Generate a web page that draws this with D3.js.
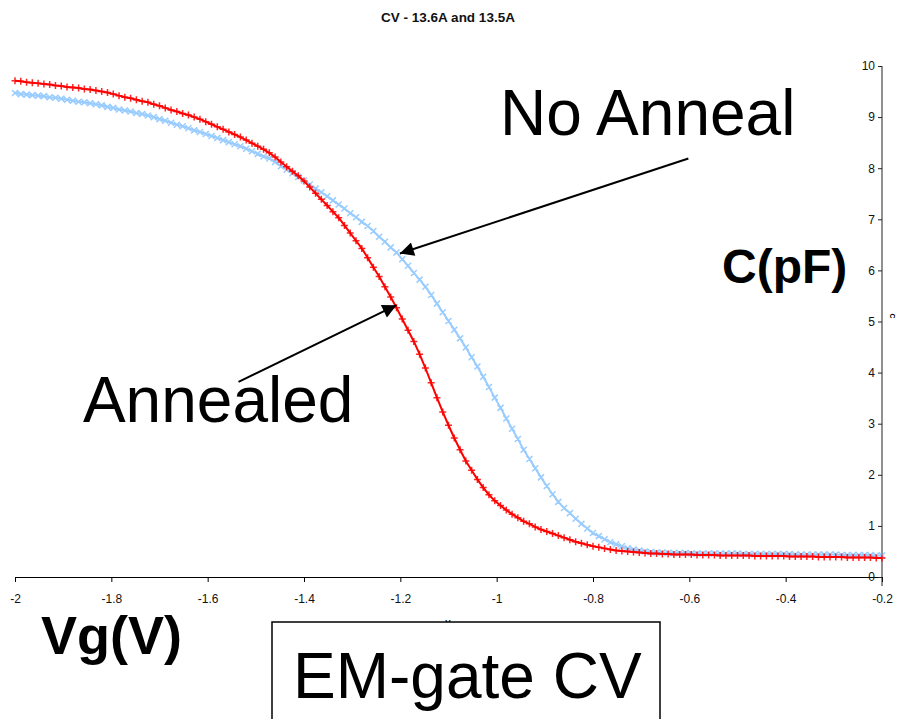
<!DOCTYPE html>
<html>
<head>
<meta charset="utf-8">
<script src="https://cdn.jsdelivr.net/npm/d3@7"></script>
<style>
  body { margin: 0; background: #fff; }
  text { font-family: "Liberation Sans", Arial, sans-serif; }
</style>
</head>
<body>
<div id="chart"></div>
<script>
// gate voltage sweep: -2 V to -0.2 V
const vStart = -2;
const vStep = 0.012;

// C(pF), annealed sample (red +)
const capAnnealed = [
  9.71, 9.70, 9.68, 9.67, 9.66, 9.65, 9.64, 9.62, 9.61, 9.59,
  9.58, 9.57, 9.55, 9.54, 9.52, 9.50, 9.48, 9.45, 9.42, 9.39,
  9.37, 9.34, 9.31, 9.29, 9.25, 9.22, 9.18, 9.14, 9.11, 9.07,
  9.04, 9.00, 8.96, 8.91, 8.86, 8.81, 8.76, 8.71, 8.66, 8.61,
  8.55, 8.49, 8.43, 8.37, 8.30, 8.22, 8.12, 8.03, 7.94, 7.85,
  7.75, 7.63, 7.51, 7.39, 7.27, 7.15, 7.03, 6.88, 6.73, 6.58,
  6.43, 6.25, 6.06, 5.88, 5.68, 5.48, 5.27, 5.05, 4.83, 4.61,
  4.36, 4.09, 3.80, 3.51, 3.23, 2.97, 2.72, 2.49, 2.27, 2.09,
  1.91, 1.75, 1.61, 1.49, 1.40, 1.31, 1.23, 1.16, 1.09, 1.04,
  0.98, 0.93, 0.89, 0.85, 0.81, 0.77, 0.73, 0.69, 0.66, 0.63,
  0.60, 0.58, 0.56, 0.54, 0.52, 0.51, 0.50, 0.49, 0.48, 0.47,
  0.46, 0.46, 0.45, 0.45, 0.44, 0.44, 0.44, 0.44, 0.43, 0.43,
  0.43, 0.43, 0.42, 0.42, 0.42, 0.42, 0.42, 0.42, 0.41, 0.41,
  0.41, 0.41, 0.41, 0.41, 0.40, 0.40, 0.40, 0.40, 0.40, 0.39,
  0.39, 0.39, 0.39, 0.39, 0.38, 0.38, 0.38, 0.38, 0.38, 0.37, 0.37
];

// C(pF), no anneal (light blue x)
const capNoAnneal = [
  9.47, 9.45, 9.44, 9.43, 9.42, 9.41, 9.39, 9.38, 9.36, 9.34,
  9.32, 9.30, 9.29, 9.27, 9.25, 9.23, 9.20, 9.18, 9.15, 9.13,
  9.11, 9.08, 9.06, 9.03, 9.00, 8.96, 8.93, 8.89, 8.85, 8.82,
  8.78, 8.74, 8.71, 8.67, 8.63, 8.59, 8.55, 8.51, 8.47, 8.43,
  8.38, 8.33, 8.28, 8.23, 8.19, 8.12, 8.04, 7.97, 7.90, 7.83,
  7.76, 7.68, 7.60, 7.53, 7.45, 7.37, 7.29, 7.21, 7.12, 7.04,
  6.95, 6.87, 6.77, 6.66, 6.56, 6.45, 6.35, 6.22, 6.09, 5.95,
  5.82, 5.68, 5.52, 5.35, 5.18, 5.01, 4.84, 4.67, 4.49, 4.30,
  4.12, 3.92, 3.72, 3.51, 3.31, 3.10, 2.90, 2.70, 2.49, 2.31,
  2.13, 1.95, 1.78, 1.62, 1.47, 1.35, 1.25, 1.14, 1.04, 0.95,
  0.86, 0.80, 0.74, 0.68, 0.64, 0.60, 0.56, 0.54, 0.52, 0.50,
  0.49, 0.48, 0.48, 0.47, 0.47, 0.47, 0.47, 0.46, 0.46, 0.46,
  0.46, 0.46, 0.46, 0.46, 0.46, 0.46, 0.45, 0.45, 0.45, 0.45,
  0.45, 0.45, 0.45, 0.45, 0.45, 0.44, 0.44, 0.44, 0.44, 0.44,
  0.44, 0.44, 0.44, 0.43, 0.43, 0.43, 0.43, 0.43, 0.43, 0.42, 0.42
];

const xTicks = [-2, -1.8, -1.6, -1.4, -1.2, -1, -0.8, -0.6, -0.4, -0.2];
const yTicks = [0, 1, 2, 3, 4, 5, 6, 7, 8, 9, 10];

// annotations (data units)
const labelText = ['No Anneal', 'Annealed'];
const labelAt = [[-0.993, 8.65], [-1.859, 3.03]];
const arrowFrom = [[-0.602, 8.19], [-1.536, 3.82]];
const arrowTo = [[-1.201, 6.33], [-1.208, 5.32]];

const width = 897, height = 719;

const svg = d3.select('#chart').append('svg')
  .attr('width', width)
  .attr('height', height);

const x = d3.scaleLinear().domain([-2, -0.2]).range([15, 882]);
const y = d3.scaleLinear().domain([0, 10]).range([577, 66]);

// title
svg.append('text')
  .attr('x', 448).attr('y', 22)
  .attr('text-anchor', 'middle')
  .attr('font-size', 13.5)
  .attr('font-weight', 'bold')
  .attr('fill', '#111')
  .text('CV - 13.6A and 13.5A');

// x axis
const xAxis = svg.append('g')
  .attr('transform', `translate(0,${y(0)})`)
  .call(d3.axisBottom(x).tickValues(xTicks).tickSize(5).tickSizeOuter(0)
    .tickPadding(12).tickFormat(d => String(+d.toFixed(1))));
xAxis.select('.domain').attr('stroke', '#000');
xAxis.selectAll('.tick line').attr('stroke', '#000');
xAxis.selectAll('text').attr('font-size', 12).attr('fill', '#111')
  .style('font-family', '"Liberation Sans", Arial, sans-serif');

// y axis on the right, labels inside
const yAxis = svg.append('g')
  .attr('transform', `translate(${x(-0.2)},0)`)
  .call(d3.axisLeft(y).tickValues(yTicks).tickSize(4).tickSizeOuter(0).tickPadding(3));
yAxis.select('.domain').attr('stroke', '#222').attr('d', `M0,${y(10)}V${y(0) + 9}`);
yAxis.selectAll('.tick line').attr('stroke', '#222');
yAxis.selectAll('text').attr('font-size', 12).attr('fill', '#111')
  .style('font-family', '"Liberation Sans", Arial, sans-serif');

// series
const toPoints = caps => caps.map((c, i) => ({ v: vStart + i * vStep, c: c }));
const annealed = toPoints(capAnnealed);
const noAnneal = toPoints(capNoAnneal);

const line = d3.line().x(d => x(d.v)).y(d => y(d.c));

function plusPath(pts, r) {
  return pts.map(d => {
    const px = x(d.v), py = y(d.c);
    return `M${px - r},${py}H${px + r}M${px},${py - r}V${py + r}`;
  }).join('');
}
function crossPath(pts, r) {
  return pts.map(d => {
    const px = x(d.v), py = y(d.c);
    return `M${px - r},${py - r}L${px + r},${py + r}M${px - r},${py + r}L${px + r},${py - r}`;
  }).join('');
}

// no anneal first, red drawn over it
svg.append('path')
  .datum(noAnneal)
  .attr('fill', 'none')
  .attr('stroke', '#99CCFF')
  .attr('stroke-width', 2)
  .attr('d', line);
svg.append('path')
  .attr('fill', 'none')
  .attr('stroke', '#99CCFF')
  .attr('stroke-width', 1.5)
  .attr('d', crossPath(noAnneal, 3));

svg.append('path')
  .datum(annealed)
  .attr('fill', 'none')
  .attr('stroke', '#FF0000')
  .attr('stroke-width', 2)
  .attr('d', line);
svg.append('path')
  .attr('fill', 'none')
  .attr('stroke', '#FF0000')
  .attr('stroke-opacity', 0.85)
  .attr('stroke-width', 1.5)
  .attr('d', plusPath(annealed, 3.5));

// arrows
svg.append('defs').append('marker')
  .attr('id', 'arrow')
  .attr('viewBox', '0 0 10 10')
  .attr('refX', 10).attr('refY', 5)
  .attr('markerWidth', 18).attr('markerHeight', 14)
  .attr('markerUnits', 'userSpaceOnUse')
  .attr('orient', 'auto')
  .append('path')
  .attr('d', 'M0,0L10,5L0,10z')
  .attr('fill', '#000');

arrowFrom.forEach((f, i) => {
  svg.append('line')
    .attr('x1', x(f[0])).attr('y1', y(f[1]))
    .attr('x2', x(arrowTo[i][0])).attr('y2', y(arrowTo[i][1]))
    .attr('stroke', '#000')
    .attr('stroke-width', 2)
    .attr('marker-end', 'url(#arrow)');
});

labelText.forEach((t, i) => {
  svg.append('text')
    .attr('x', x(labelAt[i][0])).attr('y', y(labelAt[i][1]))
    .attr('font-size', 64)
    .attr('fill', '#000')
    .text(t);
});

// axis titles
svg.append('text')
  .attr('x', x(-0.532)).attr('y', y(5.75))
  .attr('font-size', 48)
  .attr('font-weight', 'bold')
  .text('C(pF)');

svg.append('text')
  .attr('x', 41).attr('y', 654)
  .attr('font-size', 54)
  .attr('font-weight', 'bold')
  .text('Vg(V)');

// tiny original axis titles
svg.append('text')
  .attr('x', 448).attr('y', 625)
  .attr('text-anchor', 'middle')
  .attr('font-size', 8)
  .attr('font-weight', 'bold')
  .text('V');

svg.append('text')
  .attr('transform', 'translate(890,316) rotate(90)')
  .attr('text-anchor', 'middle')
  .attr('font-size', 7)
  .attr('font-weight', 'bold')
  .text('C');

// boxed caption
svg.append('rect')
  .attr('x', 272).attr('y', 622)
  .attr('width', 388).attr('height', 120)
  .attr('fill', '#fff')
  .attr('stroke', '#000')
  .attr('stroke-width', 1.5);

svg.append('text')
  .attr('x', 293).attr('y', 698)
  .attr('font-size', 64)
  .text('EM-gate CV');
</script>
</body>
</html>
